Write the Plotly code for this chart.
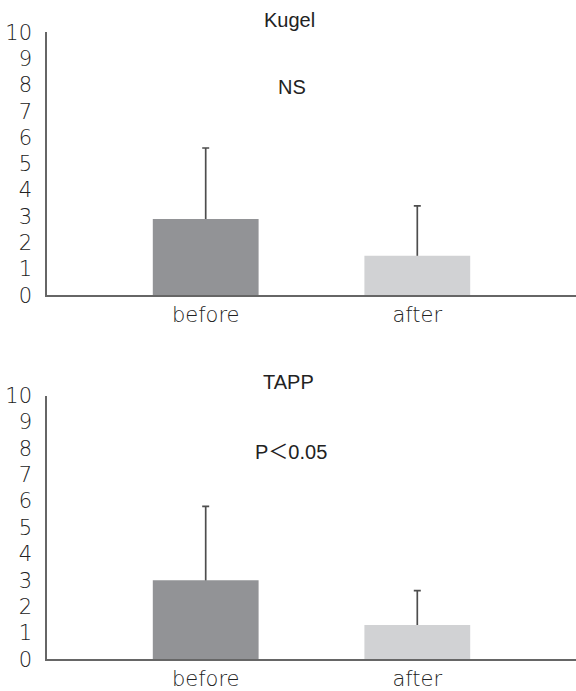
import plotly.graph_objects as go
from plotly.subplots import make_subplots

categories = ["before", "after"]
kugel_mean = [2.9, 1.5]
kugel_upper = [5.6, 3.4]
tapp_mean = [3.0, 1.3]
tapp_upper = [5.8, 2.6]
yticks = list(range(0, 11))
bar_colors = ["#929396", "#d1d2d4"]

TICK_FONT = "DejaVu Sans"
TEXT_FONT = "Liberation Sans, Noto Sans CJK JP"
W, H = 576, 691

fig = make_subplots(rows=2, cols=1)

panels = [(kugel_mean, kugel_upper), (tapp_mean, tapp_upper)]
for i, (mean, upper) in enumerate(panels, start=1):
    err = [u - m for u, m in zip(upper, mean)]
    # error bar trace (drawn first, its lower cap hidden by bar drawn after)
    fig.add_trace(go.Bar(
        x=categories, y=mean, width=0.5,
        marker=dict(color="rgba(0,0,0,0)", line=dict(width=0)),
        error_y=dict(type="data", symmetric=False, array=err,
                     arrayminus=[m / 2 for m in mean],
                     color="#4d4d4d", thickness=1.7, width=3.5),
        showlegend=False, hoverinfo="skip"), row=i, col=1)
    fig.add_trace(go.Bar(
        x=categories, y=mean, width=0.5,
        marker=dict(color=bar_colors, line=dict(width=0)),
        showlegend=False), row=i, col=1)

axis_font = dict(family=TICK_FONT, size=21, color="#222222", weight=200)
domains = [[1 - 295.3 / H, 1 - 32.3 / H], [1 - 659.3 / H, 1 - 395.5 / H]]
for i, dom in zip([1, 2], domains):
    fig.update_yaxes(range=[0, 10], tickvals=yticks, showgrid=False, zeroline=False,
                     showline=True, linecolor="#666666", linewidth=1.5,
                     ticks="", ticklabelstandoff=9, tickfont=axis_font,
                     automargin=False, domain=dom, row=i, col=1)
    fig.update_xaxes(range=[-0.75, 1.75], showgrid=False, zeroline=False,
                     showline=True, linecolor="#666666", linewidth=1.5,
                     ticks="", tickfont=axis_font, automargin=False,
                     row=i, col=1)

annots = [
    dict(text="Kugel", x=(289 - 47) / 529, y=1 - 20 / H, xref="paper", yref="paper", size=20),
    dict(text="TAPP", x=(288 - 47) / 529, y=1 - 382 / H, xref="paper", yref="paper", size=20),
    dict(text="NS", x=(292 - 47) / 529, y=7.93, xref="paper", yref="y", size=20),
    dict(text="P＜0.05", x=(291 - 47) / 529, y=7.84, xref="paper", yref="y2", size=20),
]
for a in annots:
    size = a.pop("size")
    fig.add_annotation(**a, showarrow=False, xanchor="center", yanchor="middle",
                       font=dict(family=TEXT_FONT, size=size, color="#222222"))

fig.update_layout(
    width=W, height=H, barmode="overlay",
    margin=dict(l=47, r=0, t=0, b=0, autoexpand=False),
    paper_bgcolor="white", plot_bgcolor="white",
)

fig.write_html(
    "out.html",
    config={"displayModeBar": False},
    post_script="document.body.style.margin='0';document.body.style.overflow='hidden';",
)
